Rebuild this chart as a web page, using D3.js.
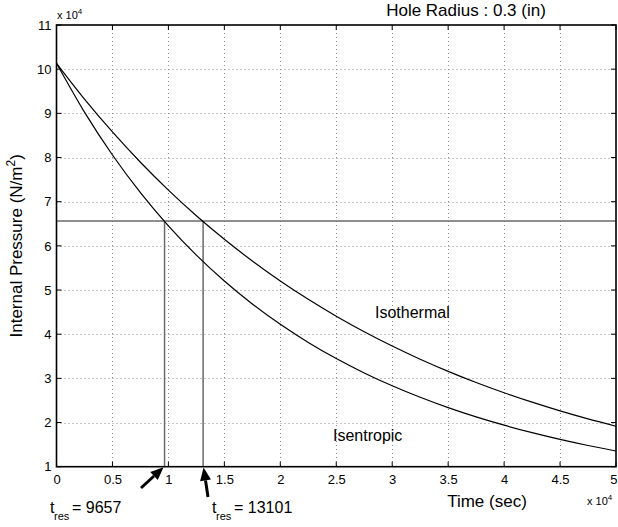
<!DOCTYPE html>
<html>
<head>
<meta charset="utf-8">
<script src="https://cdn.jsdelivr.net/npm/d3@7"></script>
<style>
  html, body { margin: 0; padding: 0; background: #fff; }
  svg { display: block; font-family: "Liberation Sans", Arial, Helvetica, sans-serif; }
</style>
</head>
<body>
<svg id="chart" width="618" height="527"></svg>
<script>
// ---- data ----
const timeSec = [0, 2500, 5000, 7500, 10000, 12500, 15000, 17500, 20000, 22500, 25000,
                 27500, 30000, 32500, 35000, 37500, 40000, 42500, 45000, 47500, 50000];
const isothermal = [101325, 93230, 85782, 78928, 72623, 66821, 61483, 56571, 52052, 47893, 44067,
                    40547, 37308, 34328, 31585, 29062, 26741, 24605, 22639, 20830, 19167];
const isentropic = [101325, 90267, 80568, 72041, 64528, 57900, 52037, 46844, 42232, 38136, 34485,
                    31228, 28318, 25714, 23381, 21286, 19403, 17710, 16182, 14803, 13554];
const resPressure = 65600;
const tRes = [9657, 13101];
const xTickValues = [0, 5000, 10000, 15000, 20000, 25000, 30000, 35000, 40000, 45000, 50000];
const xTickLabels = ["0", "0.5", "1", "1.5", "2", "2.5", "3", "3.5", "4", "4.5", "5"];
const yTickValues = [10000, 20000, 30000, 40000, 50000, 60000, 70000, 80000, 90000, 100000, 110000];
const yTickLabels = ["1", "2", "3", "4", "5", "6", "7", "8", "9", "10", "11"];

// ---- layout ----
const L = 56.5, R = 616, T = 25, B = 466.7;
const svg = d3.select("#chart");
const x = d3.scaleLinear().domain([0, 50000]).range([L, R]);
const y = d3.scaleLinear().domain([10000, 110000]).range([B, T]);

// grid
const grid = svg.append("g").attr("stroke", "#8a8a8a").attr("stroke-width", 1)
  .attr("stroke-dasharray", "1,3");
xTickValues.slice(1, -1).forEach(v => {
  grid.append("line").attr("x1", Math.round(x(v)) + 0.5).attr("x2", Math.round(x(v)) + 0.5)
    .attr("y1", T).attr("y2", B);
});
yTickValues.slice(1, -1).forEach(v => {
  grid.append("line").attr("y1", Math.round(y(v)) + 0.5).attr("y2", Math.round(y(v)) + 0.5)
    .attr("x1", L).attr("x2", R);
});

// reference lines
const ref = svg.append("g").attr("stroke", "#6a6a6a").attr("stroke-width", 1.5).attr("fill", "none");
ref.append("line").attr("x1", x(0)).attr("x2", x(50000)).attr("y1", y(resPressure)).attr("y2", y(resPressure));
tRes.forEach(t => {
  ref.append("line").attr("x1", x(t)).attr("x2", x(t)).attr("y1", y(10000)).attr("y2", y(resPressure));
});

// curves
const line = d3.line().x((d, i) => x(timeSec[i])).y(d => y(d)).curve(d3.curveMonotoneX);
[isothermal, isentropic].forEach(s => {
  svg.append("path").datum(s).attr("d", line).attr("fill", "none")
    .attr("stroke", "#000").attr("stroke-width", 1.2);
});

// axes
const tickLen = 5;
const xAxisB = d3.axisBottom(x).tickValues(xTickValues).tickSize(0).tickPadding(8)
  .tickFormat((d, i) => xTickLabels[i]);
const gx = svg.append("g").attr("transform", `translate(0,${B})`).call(xAxisB);
gx.select(".domain").remove();
gx.selectAll("text").attr("font-size", 13).attr("font-family", null).attr("fill", "#000").attr("dy", "0.71em");
// keep the last label inside the picture
gx.selectAll("text").filter((d, i) => i === xTickValues.length - 1)
  .attr("text-anchor", "end").attr("x", 617 - R);

const yAxisL = d3.axisLeft(y).tickValues(yTickValues).tickSize(0).tickPadding(5)
  .tickFormat((d, i) => yTickLabels[i]);
const gy = svg.append("g").attr("transform", `translate(${L},0)`).call(yAxisL);
gy.select(".domain").remove();
gy.selectAll("text").attr("font-size", 13).attr("font-family", null).attr("fill", "#000");

// inward tick marks on all four sides
const tk = svg.append("g").attr("stroke", "#000").attr("stroke-width", 1);
xTickValues.forEach(v => {
  tk.append("line").attr("x1", x(v)).attr("x2", x(v)).attr("y1", B).attr("y2", B - tickLen);
  tk.append("line").attr("x1", x(v)).attr("x2", x(v)).attr("y1", T).attr("y2", T + tickLen);
});
yTickValues.forEach(v => {
  tk.append("line").attr("y1", y(v)).attr("y2", y(v)).attr("x1", L).attr("x2", L + tickLen);
  tk.append("line").attr("y1", y(v)).attr("y2", y(v)).attr("x1", R).attr("x2", R - tickLen);
});

// box
svg.append("rect").attr("x", L).attr("y", T).attr("width", R - L).attr("height", B - T)
  .attr("fill", "none").attr("stroke", "#000").attr("stroke-width", 1.6);

// exponent labels
function expLabel(px, py) {
  const t = svg.append("text").attr("x", px).attr("y", py).attr("font-size", 11);
  t.append("tspan").text("x 10");
  t.append("tspan").attr("font-size", 8).attr("dy", -5).text("4");
}
expLabel(57, 18.5);
expLabel(587, 505);

// title
svg.append("text").attr("x", 466).attr("y", 15.5).attr("text-anchor", "middle")
  .attr("font-size", 17).text("Hole Radius : 0.3 (in)");

// axis labels
svg.append("text").attr("x", 487).attr("y", 507).attr("text-anchor", "middle")
  .attr("font-size", 17).text("Time (sec)");
const yl = svg.append("text").attr("transform", `translate(22,${(T + B) / 2}) rotate(-90)`)
  .attr("text-anchor", "middle").attr("font-size", 17);
yl.append("tspan").text("Internal Pressure (N/m");
yl.append("tspan").attr("font-size", 12).attr("dy", -7).text("2");
yl.append("tspan").attr("dy", 7).text(")");

// curve labels
svg.append("text").attr("x", 375).attr("y", 318).attr("font-size", 16).text("Isothermal");
svg.append("text").attr("x", 333).attr("y", 441).attr("font-size", 16).text("Isentropic");

// t_res labels
function tresLabel(px, val) {
  svg.append("text").attr("x", px).attr("y", 513).attr("font-size", 16).text("t");
  svg.append("text").attr("x", px + 4).attr("y", 520).attr("font-size", 11).text("res");
  svg.append("text").attr("x", px + 22).attr("y", 513).attr("font-size", 16).text("= " + val);
}
tresLabel(50, tRes[0]);
tresLabel(212, tRes[1]);

// arrows
function arrow(x0, y0, x1, y1) {
  const ang = Math.atan2(y1 - y0, x1 - x0);
  const hl = 13, hw = 5.5;
  const bx = x1 - hl * Math.cos(ang), by = y1 - hl * Math.sin(ang);
  svg.append("line").attr("x1", x0).attr("y1", y0).attr("x2", bx).attr("y2", by)
    .attr("stroke", "#000").attr("stroke-width", 3);
  const px = -Math.sin(ang), py = Math.cos(ang);
  svg.append("path").attr("d",
    `M${x1},${y1}L${bx + hw * px},${by + hw * py}L${bx - hw * px},${by - hw * py}Z`)
    .attr("fill", "#000");
}
arrow(141, 488, x(tRes[0]) - 1, B + 0.5);
arrow(208, 497, x(tRes[1]) + 0.5, B + 0.8);
</script>
</body>
</html>
